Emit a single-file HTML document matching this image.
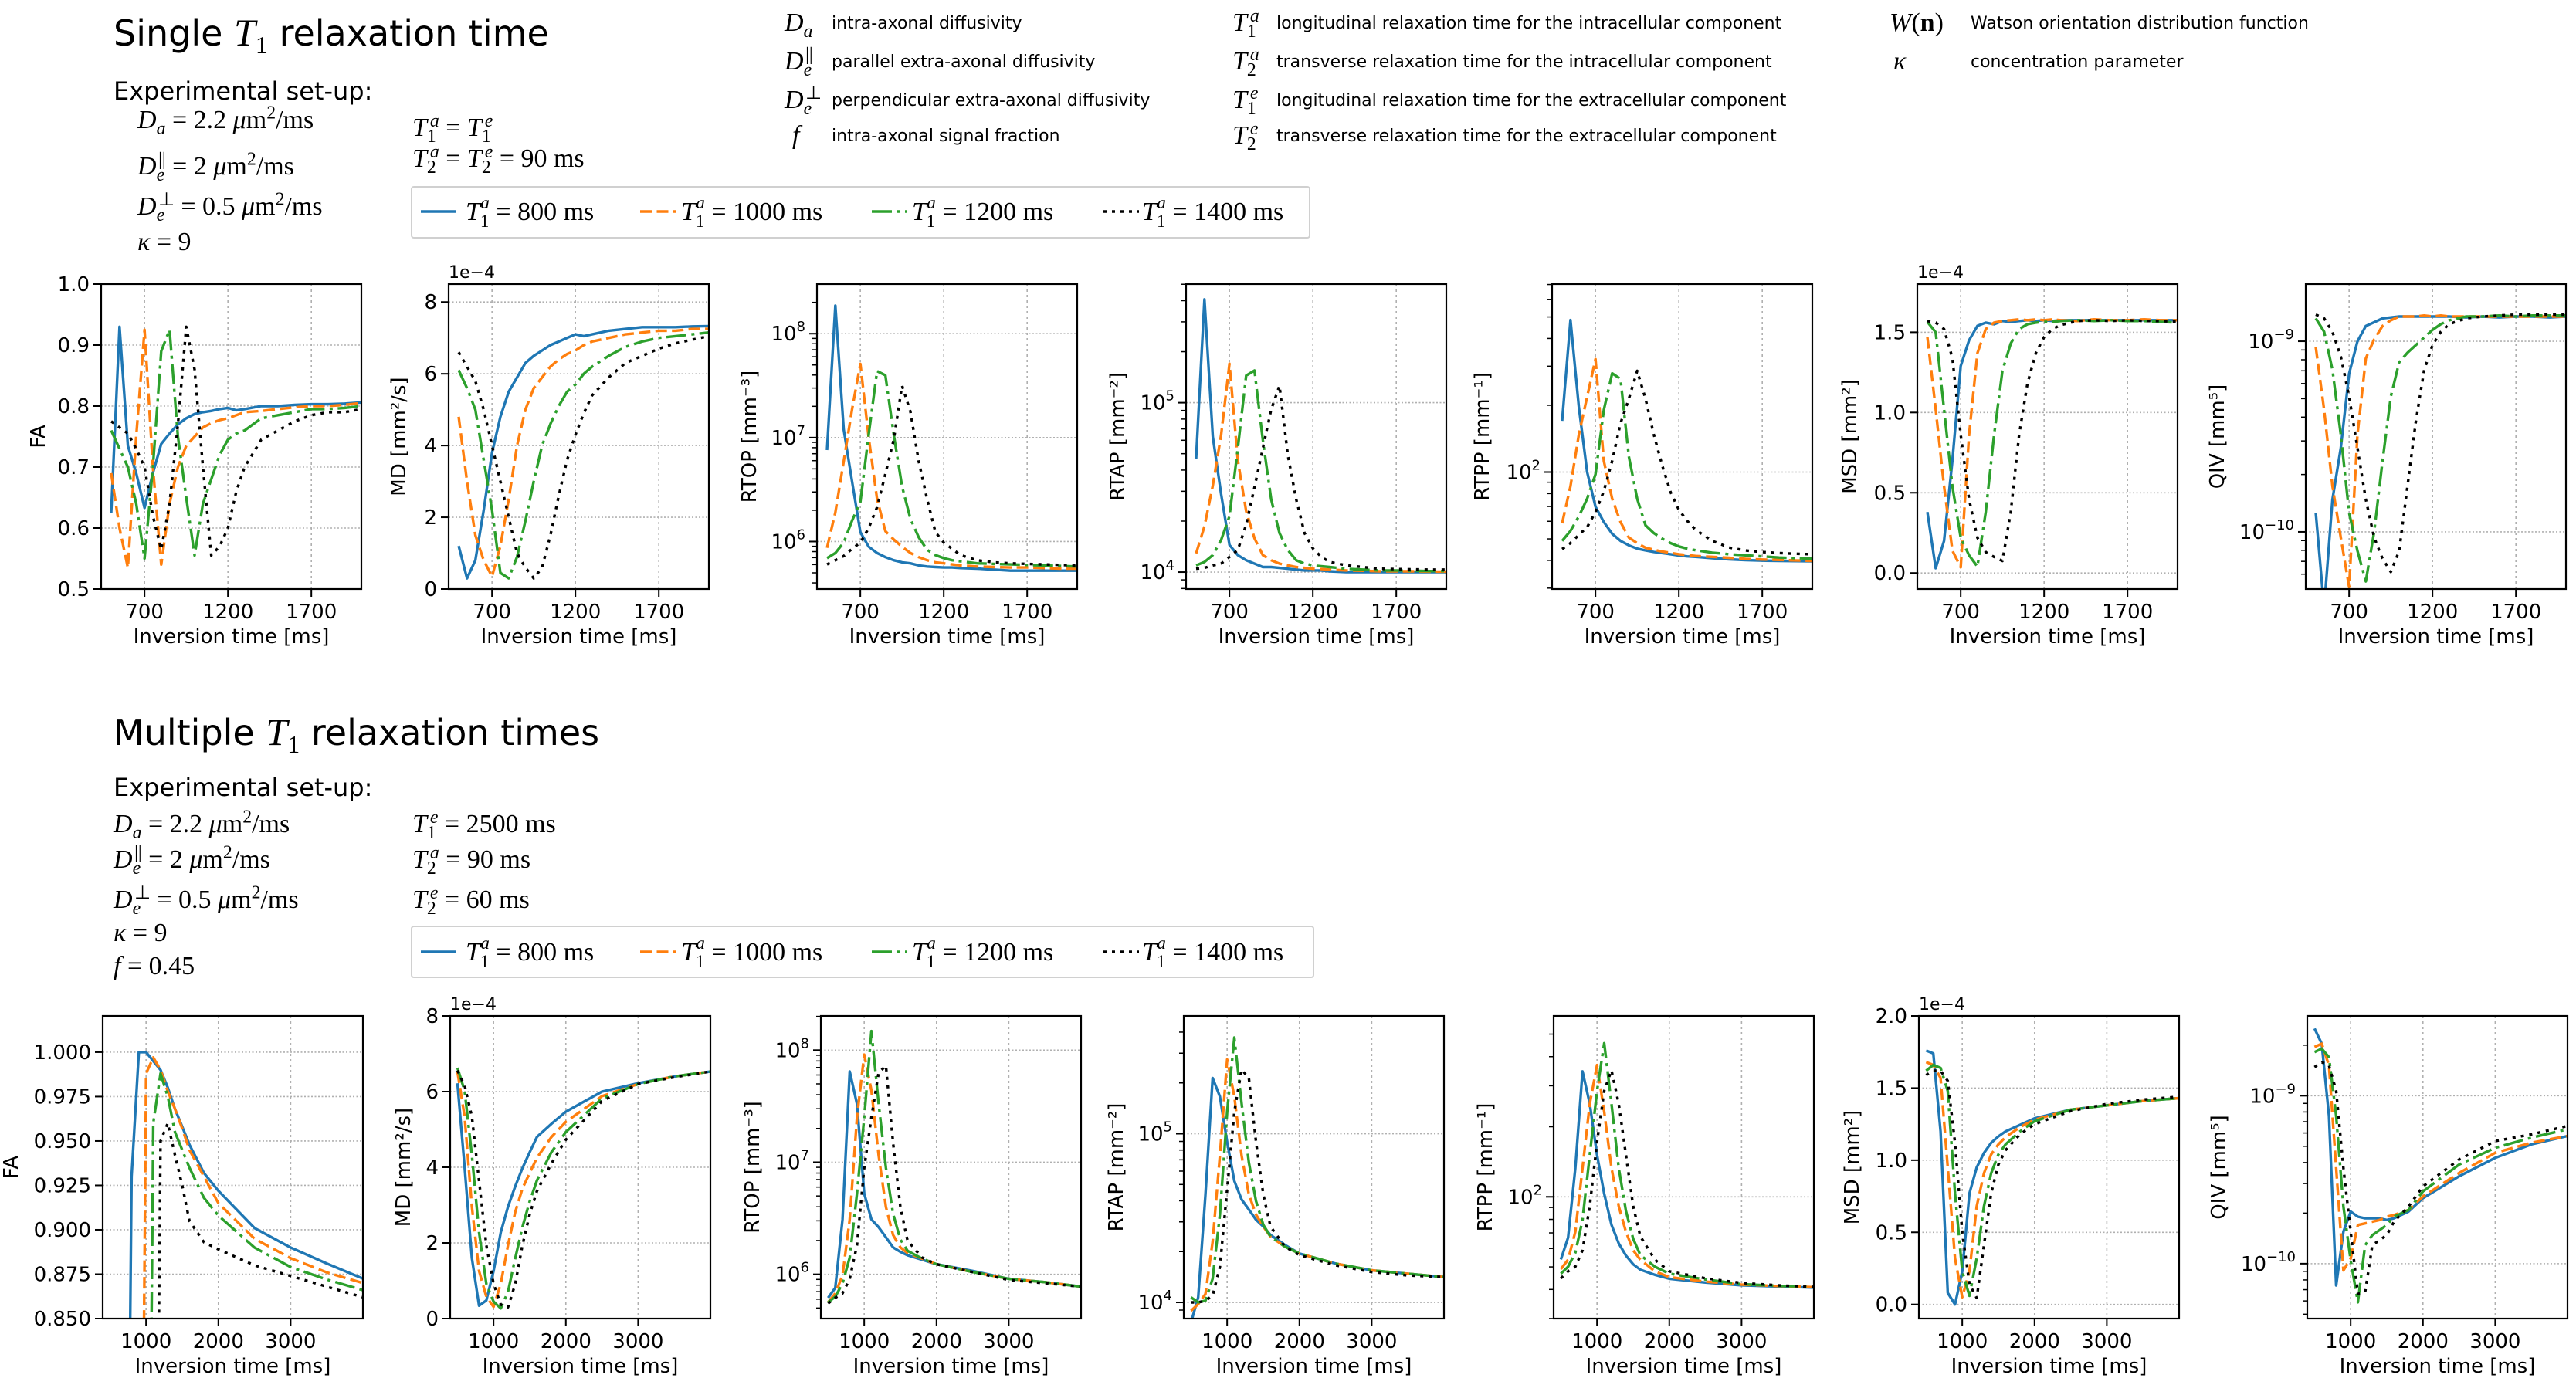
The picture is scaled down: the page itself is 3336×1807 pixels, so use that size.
<!DOCTYPE html>
<html><head><meta charset="utf-8">
<style>
html,body{margin:0;padding:0;background:#fff;width:3336px;height:1807px;overflow:hidden;}
#wrap{position:relative;width:3336px;height:1807px;overflow:hidden;background:#fff;font-family:"DejaVu Sans","Liberation Sans",sans-serif;}
.t{position:absolute;white-space:nowrap;color:#000;line-height:1.15;}
.m{font-family:"Liberation Serif",serif;font-size:34px;}
.m i{font-style:italic;}
.g{font-family:"DejaVu Sans","Liberation Sans",sans-serif;font-size:22px;}
.leg{position:absolute;border:2px solid #d0d0d0;border-radius:4px;background:#fff;box-sizing:border-box;}
sub,sup{font-size:70%;line-height:0;}
</style></head>
<body>
<div id="wrap">
<div class="t" style="left:147px;top:14px;font-size:46px;">Single <span style="font-family:'Liberation Serif',serif;font-style:italic;font-size:50px;">T</span><sub style="font-family:'Liberation Serif',serif;">1</sub> relaxation time</div>
<div class="t" style="left:147px;top:100px;font-size:32px;">Experimental set-up:</div>
<div class="t m" style="left:178px;top:136px;"><i>D<sub>a</sub></i> = 2.2 <i>μ</i>m<sup>2</sup>/ms</div>
<div class="t m" style="left:178px;top:196px;"><i>D</i><sub><i>e</i></sub><sup style="margin-left:-8px">||</sup> = 2 <i>μ</i>m<sup>2</sup>/ms</div>
<div class="t m" style="left:178px;top:248px;"><i>D</i><sub><i>e</i></sub><sup style="margin-left:-8px">⊥</sup> = 0.5 <i>μ</i>m<sup>2</sup>/ms</div>
<div class="t m" style="left:178px;top:294px;"><i>κ</i> = 9</div>
<div class="t m" style="left:534px;top:146px;"><i>T</i><sub>1</sub><sup style="margin-left:-8px"><i>a</i></sup> = <i>T</i><sub>1</sub><sup style="margin-left:-8px"><i>e</i></sup></div>
<div class="t m" style="left:534px;top:186px;"><i>T</i><sub>2</sub><sup style="margin-left:-8px"><i>a</i></sup> = <i>T</i><sub>2</sub><sup style="margin-left:-8px"><i>e</i></sup> = 90 ms</div>

<div class="t m" style="left:1016px;top:10px;"><i>D<sub>a</sub></i></div>
<div class="t g" style="left:1077px;top:18px;">intra-axonal diffusivity</div>
<div class="t m" style="left:1016px;top:60px;"><i>D</i><sub><i>e</i></sub><sup style="margin-left:-8px">||</sup></div>
<div class="t g" style="left:1077px;top:68px;">parallel extra-axonal diffusivity</div>
<div class="t m" style="left:1016px;top:110px;"><i>D</i><sub><i>e</i></sub><sup style="margin-left:-8px">⊥</sup></div>
<div class="t g" style="left:1077px;top:118px;">perpendicular extra-axonal diffusivity</div>
<div class="t m" style="left:1026px;top:156px;"><i>f</i></div>
<div class="t g" style="left:1077px;top:164px;">intra-axonal signal fraction</div>
<div class="t m" style="left:1596px;top:10px;"><i>T</i><sub>1</sub><sup style="margin-left:-8px"><i>a</i></sup></div>
<div class="t g" style="left:1653px;top:18px;">longitudinal relaxation time for the intracellular component</div>
<div class="t m" style="left:1596px;top:60px;"><i>T</i><sub>2</sub><sup style="margin-left:-8px"><i>a</i></sup></div>
<div class="t g" style="left:1653px;top:68px;">transverse relaxation time for the intracellular component</div>
<div class="t m" style="left:1596px;top:110px;"><i>T</i><sub>1</sub><sup style="margin-left:-8px"><i>e</i></sup></div>
<div class="t g" style="left:1653px;top:118px;">longitudinal relaxation time for the extracellular component</div>
<div class="t m" style="left:1596px;top:156px;"><i>T</i><sub>2</sub><sup style="margin-left:-8px"><i>e</i></sup></div>
<div class="t g" style="left:1653px;top:164px;">transverse relaxation time for the extracellular component</div>
<div class="t m" style="left:2447px;top:10px;"><i>W</i>(<b>n</b>)</div>
<div class="t g" style="left:2552px;top:18px;">Watson orientation distribution function</div>
<div class="t m" style="left:2452px;top:60px;"><i>κ</i></div>
<div class="t g" style="left:2552px;top:68px;">concentration parameter</div>

<div class="t" style="left:147px;top:920px;font-size:46px;">Multiple <span style="font-family:'Liberation Serif',serif;font-style:italic;font-size:50px;">T</span><sub style="font-family:'Liberation Serif',serif;">1</sub> relaxation times</div>
<div class="t" style="left:147px;top:1002px;font-size:32px;">Experimental set-up:</div>
<div class="t m" style="left:147px;top:1048px;"><i>D<sub>a</sub></i> = 2.2 <i>μ</i>m<sup>2</sup>/ms</div>
<div class="t m" style="left:147px;top:1094px;"><i>D</i><sub><i>e</i></sub><sup style="margin-left:-8px">||</sup> = 2 <i>μ</i>m<sup>2</sup>/ms</div>
<div class="t m" style="left:147px;top:1146px;"><i>D</i><sub><i>e</i></sub><sup style="margin-left:-8px">⊥</sup> = 0.5 <i>μ</i>m<sup>2</sup>/ms</div>
<div class="t m" style="left:147px;top:1189px;"><i>κ</i> = 9</div>
<div class="t m" style="left:147px;top:1232px;"><i>f</i> = 0.45</div>
<div class="t m" style="left:534px;top:1048px;"><i>T</i><sub>1</sub><sup style="margin-left:-8px"><i>e</i></sup> = 2500 ms</div>
<div class="t m" style="left:534px;top:1094px;"><i>T</i><sub>2</sub><sup style="margin-left:-8px"><i>a</i></sup> = 90 ms</div>
<div class="t m" style="left:534px;top:1146px;"><i>T</i><sub>2</sub><sup style="margin-left:-8px"><i>e</i></sup> = 60 ms</div>

<div id="legtop" class="leg" style="left:532px;top:241px;width:1165px;height:68px;"></div>
<div id="legbot" class="leg" style="left:532px;top:1199px;width:1170px;height:68px;"></div>

<svg id="chart" width="3336" height="1807" style="position:absolute;left:0;top:0;"></svg>
</div>
<script>
const topX = [500,550,600,650,700,750,800,850,900,950,1000,1050,1100,1150,1200,1250,1300,1400,1500,1600,1700,1800,1900,2000];
const botX = [500,600,700,800,900,1000,1100,1200,1300,1400,1500,1600,1800,2000,2500,3000,3500,4000];
const legendLabels = ['800','1000','1200','1400'];

const topFA800 = [.625,.93,.735,.69,.633,.69,.738,.755,.77,.78,.787,.79,.792,.795,.797,.793,.795,.80,.80,.802,.803,.803,.804,.806];
const topFA1000 = [.69,.60,.535,.75,.925,.70,.54,.64,.70,.735,.75,.765,.772,.777,.78,.785,.79,.792,.795,.798,.80,.80,.802,.805];
const topFA1200 = [.76,.73,.70,.64,.55,.70,.89,.925,.75,.65,.555,.64,.68,.72,.745,.755,.76,.78,.785,.79,.795,.795,.797,.80];
const topFA1400 = [.775,.765,.755,.73,.70,.62,.565,.64,.77,.93,.86,.70,.555,.57,.60,.66,.70,.745,.76,.775,.785,.79,.79,.795];

const topMD800 = [1.2,0.3,0.8,2.2,3.8,4.8,5.5,5.9,6.3,6.5,6.65,6.8,6.9,7.0,7.1,7.05,7.1,7.2,7.25,7.3,7.3,7.3,7.32,7.33];
const topMD1000 = [4.8,3.0,1.5,0.8,0.35,1.2,2.5,4.0,5.0,5.6,5.9,6.2,6.4,6.55,6.65,6.8,6.9,7.0,7.1,7.15,7.2,7.2,7.25,7.25];
const topMD1200 = [6.1,5.6,5.0,3.6,2.2,0.45,0.3,0.9,1.9,3.0,4.0,4.6,5.1,5.5,5.7,6.0,6.2,6.5,6.75,6.9,7.0,7.05,7.1,7.15];
const topMD1400 = [6.6,6.2,5.8,5.0,4.0,3.0,2.0,1.0,0.6,0.3,0.6,1.5,2.6,3.6,4.3,4.9,5.4,5.9,6.3,6.5,6.7,6.85,6.95,7.05];

const topRTOP800 = [6.88,8.27,7.08,6.58,6.09,5.95,5.89,5.85,5.82,5.80,5.79,5.77,5.76,5.755,5.75,5.75,5.745,5.74,5.73,5.72,5.72,5.72,5.72,5.72];
const topRTOP1000 = [5.94,6.28,6.77,7.27,7.71,7.0,6.41,6.1,6.02,5.95,5.89,5.85,5.82,5.80,5.79,5.78,5.77,5.76,5.755,5.75,5.75,5.745,5.74,5.74];
const topRTOP1200 = [5.84,5.89,5.99,6.2,6.38,7.03,7.64,7.6,7.03,6.53,6.22,6.04,5.92,5.87,5.84,5.82,5.81,5.79,5.785,5.78,5.775,5.77,5.765,5.76];
const topRTOP1400 = [5.78,5.82,5.86,5.93,5.99,6.13,6.33,6.65,6.98,7.5,7.25,6.77,6.41,6.09,5.99,5.93,5.87,5.82,5.80,5.79,5.785,5.78,5.775,5.77];

const topRTAP800 = [4.67,5.61,4.80,4.46,4.16,4.10,4.07,4.05,4.03,4.03,4.025,4.02,4.015,4.01,4.01,4.01,4.005,4.0,4.0,4.0,4.0,4.0,4.0,4.0];
const topRTAP1000 = [4.11,4.27,4.51,4.81,5.23,4.66,4.36,4.2,4.1,4.07,4.05,4.04,4.03,4.025,4.02,4.018,4.015,4.01,4.008,4.005,4.005,4.005,4.003,4.003];
const topRTAP1200 = [4.04,4.06,4.10,4.19,4.33,4.73,5.16,5.19,4.78,4.43,4.23,4.13,4.07,4.05,4.04,4.035,4.03,4.02,4.015,4.01,4.01,4.008,4.006,4.006];
const topRTAP1400 = [4.02,4.025,4.04,4.05,4.09,4.13,4.28,4.5,4.73,4.96,5.1,4.69,4.43,4.23,4.14,4.09,4.06,4.04,4.03,4.02,4.018,4.016,4.015,4.015];

const topRTPP800 = [2.231,2.685,2.295,2.0,1.844,1.775,1.722,1.69,1.67,1.655,1.647,1.64,1.635,1.63,1.624,1.62,1.618,1.612,1.607,1.603,1.601,1.60,1.599,1.598];
const topRTPP1000 = [1.769,1.936,2.168,2.34,2.509,2.05,1.88,1.775,1.705,1.68,1.659,1.65,1.642,1.636,1.630,1.626,1.622,1.618,1.614,1.609,1.606,1.604,1.602,1.60];
const topRTPP1200 = [1.69,1.735,1.80,1.88,1.99,2.28,2.445,2.42,2.07,1.88,1.76,1.725,1.70,1.68,1.665,1.655,1.648,1.637,1.63,1.625,1.62,1.615,1.612,1.61];
const topRTPP1400 = [1.653,1.68,1.717,1.752,1.82,1.914,2.05,2.22,2.33,2.456,2.33,2.168,2.03,1.91,1.83,1.78,1.74,1.69,1.66,1.647,1.64,1.635,1.632,1.63];

const topMSD800 = [.38,.03,.2,.7,1.29,1.45,1.54,1.56,1.55,1.57,1.565,1.57,1.575,1.57,1.575,1.57,1.575,1.575,1.575,1.575,1.575,1.575,1.575,1.575];
const topMSD1000 = [1.47,1.02,.54,.14,.035,.86,1.37,1.52,1.56,1.57,1.575,1.58,1.575,1.58,1.575,1.58,1.575,1.57,1.58,1.575,1.575,1.58,1.575,1.575];
const topMSD1200 = [1.565,1.5,1.02,.54,.22,.11,.04,.38,.86,1.26,1.43,1.52,1.55,1.56,1.565,1.565,1.57,1.575,1.57,1.575,1.57,1.57,1.565,1.56];
const topMSD1400 = [1.57,1.56,1.52,1.34,.86,.46,.22,.13,.10,.075,.38,.86,1.18,1.37,1.47,1.52,1.545,1.57,1.575,1.57,1.575,1.57,1.57,1.565];

const topQIV800 = [-9.90,-10.4,-9.83,-9.56,-9.17,-9.0,-8.92,-8.90,-8.88,-8.875,-8.87,-8.87,-8.87,-8.87,-8.87,-8.87,-8.87,-8.875,-8.87,-8.875,-8.87,-8.87,-8.875,-8.87];
const topQIV1000 = [-9.03,-9.36,-9.76,-10.03,-10.29,-9.49,-9.09,-8.99,-8.92,-8.89,-8.87,-8.87,-8.87,-8.865,-8.87,-8.865,-8.87,-8.87,-8.87,-8.87,-8.87,-8.87,-8.87,-8.87];
const topQIV1200 = [-8.88,-8.95,-9.15,-9.49,-9.9,-10.1,-10.26,-10.0,-9.63,-9.29,-9.11,-9.06,-9.02,-8.98,-8.94,-8.91,-8.89,-8.87,-8.87,-8.865,-8.87,-8.865,-8.865,-8.865];
const topQIV1400 = [-8.86,-8.88,-8.95,-9.08,-9.29,-9.56,-9.83,-10.03,-10.14,-10.21,-10.1,-9.76,-9.42,-9.15,-9.02,-8.95,-8.91,-8.88,-8.87,-8.865,-8.86,-8.86,-8.86,-8.86];

const botFA800 = [.5,.5,.5,.93,1.0,1.0,.995,.99,.98,.968,.958,.948,.932,.922,.901,.89,.881,.8725];
const botFA1000 = [.5,.5,.5,.5,.5,.988,.997,.99,.978,.968,.957,.945,.93,.915,.895,.884,.876,.87];
const botFA1200 = [.5,.5,.5,.5,.5,.5,.96,.988,.975,.955,.945,.935,.918,.908,.89,.879,.872,.866];
const botFA1400 = [.5,.5,.5,.5,.5,.5,.5,.95,.96,.942,.925,.905,.893,.889,.88,.874,.868,.862];

const botMD800 = [6.22,4.0,1.6,.34,.48,1.26,2.28,2.96,3.5,3.98,4.4,4.8,5.15,5.47,6.0,6.22,6.4,6.53];
const botMD1000 = [6.53,5.34,2.96,1.26,.58,.31,.92,1.94,2.82,3.44,3.85,4.25,4.8,5.2,5.88,6.2,6.4,6.53];
const botMD1200 = [6.63,6.02,4.32,2.28,.92,.45,.27,.71,1.6,2.42,3.1,3.65,4.4,4.93,5.82,6.2,6.4,6.53];
const botMD1400 = [6.56,6.16,5.34,3.64,1.94,.92,.37,.3,.92,1.94,2.76,3.37,4.1,4.73,5.75,6.2,6.38,6.53];

const botRTOP800 = [5.79,5.88,6.49,7.81,7.52,6.72,6.49,6.42,6.33,6.24,6.2,6.17,6.13,6.09,6.03,5.96,5.93,5.89];
const botRTOP1000 = [5.75,5.83,5.99,6.49,7.40,7.96,7.64,7.06,6.6,6.35,6.24,6.19,6.14,6.09,6.02,5.96,5.93,5.89];
const botRTOP1200 = [5.75,5.80,5.92,6.15,6.72,7.40,8.17,7.52,6.95,6.54,6.31,6.21,6.14,6.09,6.02,5.96,5.93,5.89];
const botRTOP1400 = [5.74,5.79,5.83,5.96,6.26,6.95,7.40,7.80,7.86,7.17,6.6,6.3,6.15,6.09,6.02,5.95,5.92,5.89];

const botRTAP800 = [3.88,4.03,4.64,5.33,5.22,4.95,4.72,4.61,4.55,4.49,4.45,4.40,4.34,4.29,4.23,4.19,4.17,4.15];
const botRTAP1000 = [3.95,3.99,4.05,4.36,4.87,5.44,5.22,4.87,4.64,4.52,4.45,4.39,4.33,4.29,4.23,4.19,4.17,4.15];
const botRTAP1200 = [4.03,4.0,4.01,4.14,4.52,5.13,5.57,5.18,4.83,4.60,4.46,4.39,4.33,4.29,4.23,4.19,4.17,4.15];
const botRTAP1400 = [4.0,4.0,4.01,4.04,4.21,4.67,5.13,5.38,5.33,4.95,4.64,4.45,4.33,4.28,4.22,4.18,4.16,4.15];

const botRTPP800 = [1.731,1.825,2.124,2.539,2.40,2.18,2.013,1.88,1.80,1.748,1.71,1.687,1.665,1.648,1.632,1.62,1.615,1.61];
const botRTPP1000 = [1.69,1.73,1.85,2.124,2.40,2.566,2.365,2.124,1.96,1.85,1.77,1.73,1.68,1.655,1.636,1.623,1.617,1.612];
const botRTPP1200 = [1.67,1.70,1.76,1.90,2.18,2.455,2.66,2.40,2.124,1.94,1.82,1.75,1.70,1.67,1.645,1.625,1.618,1.613];
const botRTPP1400 = [1.65,1.68,1.70,1.77,1.96,2.235,2.455,2.544,2.40,2.18,1.96,1.83,1.73,1.68,1.65,1.63,1.62,1.613];

const botMSD800 = [1.76,1.74,1.2,.08,.0,.23,.77,.95,1.05,1.12,1.165,1.2,1.245,1.29,1.35,1.38,1.41,1.43];
const botMSD1000 = [1.68,1.66,1.57,.95,.32,.05,.23,.68,.91,1.04,1.11,1.16,1.23,1.28,1.35,1.38,1.41,1.43];
const botMSD1200 = [1.62,1.66,1.64,1.48,.77,.23,.06,.32,.68,.91,1.04,1.11,1.2,1.27,1.35,1.38,1.41,1.43];
const botMSD1400 = [1.59,1.62,1.62,1.55,1.12,.5,.14,.045,.41,.77,.97,1.07,1.18,1.25,1.34,1.39,1.42,1.44];

const botQIV800 = [-8.60,-8.69,-9.12,-10.13,-9.81,-9.69,-9.72,-9.73,-9.73,-9.73,-9.74,-9.73,-9.69,-9.61,-9.48,-9.37,-9.29,-9.24];
const botQIV1000 = [-8.71,-8.69,-8.82,-9.43,-10.04,-9.97,-9.77,-9.76,-9.75,-9.74,-9.72,-9.71,-9.68,-9.60,-9.46,-9.34,-9.28,-9.24];
const botQIV1200 = [-8.74,-8.72,-8.77,-9.12,-9.66,-9.98,-10.23,-9.89,-9.83,-9.80,-9.77,-9.72,-9.68,-9.57,-9.41,-9.31,-9.25,-9.2];
const botQIV1400 = [-8.83,-8.80,-8.82,-8.97,-9.43,-9.81,-10.18,-10.17,-9.89,-9.86,-9.83,-9.75,-9.66,-9.54,-9.38,-9.27,-9.23,-9.18];

const topXTicks = [700,1200,1700];
const botXTicks = [1000,2000,3000];

const NS = 'http://www.w3.org/2000/svg';
const svg = document.getElementById('chart');
const colors = ['#1f77b4','#ff7f0e','#2ca02c','#000000'];
const dashes = ['none','15,6.5','26,6.5,4,6.5','4,7'];
function mk(tag, attrs, parent){
  const e = document.createElementNS(NS, tag);
  for (const k in attrs) e.setAttribute(k, attrs[k]);
  (parent||svg).appendChild(e);
  return e;
}
let clipId = 0;
function panel(p){
  const g = mk('g', {});
  
  
  const [x0,x1] = p.xd, [y0,y1] = p.yd;
  const sx = v => p.L + (v - x0)/(x1 - x0)*p.W;
  const sy = v => p.T + p.H - (v - y0)/(y1 - y0)*p.H;
  p.xt.forEach(t => {
    const gl = mk('line', {x1:sx(t),x2:sx(t),y1:p.T,y2:p.T+p.H,stroke:'#b0b0b0','stroke-width':1.6,'stroke-dasharray':'3,4'}, g);
    
    
  });
  p.yt.forEach(t => {
    const gl = mk('line', {x1:p.L,x2:p.L+p.W,y1:sy(t),y2:sy(t),stroke:'#b0b0b0','stroke-width':1.6,'stroke-dasharray':'2,2.5'}, g);
    
    
  });
  const id = 'c' + (clipId++);
  const cp = mk('clipPath', {id:id}, g);
  mk('rect', {x:p.L,y:p.T,width:p.W,height:p.H}, cp);
  p.series.forEach((ys, i) => {
    const d = ys.map((v, j) => (j ? 'L' : 'M') + sx(p.x[j]).toFixed(1) + ',' + sy(v).toFixed(1)).join('');
    const path = mk('path', {d:d,fill:'none',stroke:colors[i],'stroke-width':3.4,'stroke-dasharray':dashes[i],'clip-path':'url(#'+id+')','stroke-linejoin':'round'}, g);
    
    
  });
  const fr = mk('rect', {x:p.L,y:p.T,width:p.W,height:p.H,fill:'none',stroke:'#000','stroke-width':2.2}, g);
  
  
  p.xt.forEach(t => {
    mk('line', {x1:sx(t),x2:sx(t),y1:p.T+p.H,y2:p.T+p.H+10,stroke:'#000','stroke-width':2}, g);
    const tx = mk('text', {x:sx(t),y:p.T+p.H+38,'text-anchor':'middle','font-size':26,'font-family':'DejaVu Sans, Liberation Sans, sans-serif'}, g);
    tx.textContent = t;
    
    
  });
  const xl = mk('text', {x:p.L+p.W/2,y:p.T+p.H+70,'text-anchor':'middle','font-size':26,'font-family':'DejaVu Sans, Liberation Sans, sans-serif'}, g);
  xl.textContent = 'Inversion time [ms]';
  
  
  if (p.log) {
    for (let e = Math.floor(y0); e <= Math.ceil(y1); e++) {
      for (let m = 2; m <= 9; m++) {
        const v = e + Math.log10(m);
        if (v > y0 && v < y1) mk('line', {x1:p.L-6,x2:p.L,y1:sy(v),y2:sy(v),stroke:'#000','stroke-width':1.5}, g);
      }
    }
  }
  p.yt.forEach((t, k) => {
    mk('line', {x1:p.L-10,x2:p.L,y1:sy(t),y2:sy(t),stroke:'#000','stroke-width':2}, g);
    const tx = mk('text', {x:p.L-15,y:sy(t)+9,'text-anchor':'end','font-size':26,'font-family':'DejaVu Sans, Liberation Sans, sans-serif'}, g);
    if (p.log) {
      const t1 = mk('tspan', {}, tx); t1.textContent = '10';
      const t2 = mk('tspan', {dy:-12,'font-size':18}, tx); t2.textContent = p.ytl[k];
    } else tx.textContent = p.ytl[k];
    
    
  });
  const yl = mk('text', {x:0,y:0,'text-anchor':'middle','font-size':26,'font-family':'DejaVu Sans, Liberation Sans, sans-serif',transform:'translate('+(p.L-p.yo)+','+(p.T+p.H/2)+') rotate(-90)'}, g);
  yl.textContent = p.yl;
  
  
  if (p.off) {
    const ot = mk('text', {x:p.L,y:p.T-8,'font-size':22,'font-family':'DejaVu Sans, Liberation Sans, sans-serif'}, g);
    ot.textContent = p.off;
    
    
  }
}
const W = 337;
const TT = 368, TH = 395, BT = 1316, BH = 392;
const topL = [131,581,1058,1536,2010,2483,2986];
const botL = [133,583,1063,1533,2012,2485,2988];
const tX = [440,2000], bX = [400,4000];
const defsTop = [
 {name:'panel-fa-single', yd:[0.5,1.0], yt:[0.5,0.6,0.7,0.8,0.9,1.0], ytl:['0.5','0.6','0.7','0.8','0.9','1.0'], yl:'FA', yo:73, s:[topFA800,topFA1000,topFA1200,topFA1400]},
 {name:'panel-md-single', yd:[0,8.5], yt:[0,2,4,6,8], ytl:['0','2','4','6','8'], yl:'MD [mm²/s]', yo:56, off:'1e−4', s:[topMD800,topMD1000,topMD1200,topMD1400]},
 {name:'panel-rtop-single', log:1, yd:[5.543,8.477], yt:[6,7,8], ytl:['6','7','8'], yl:'RTOP [mm⁻³]', yo:79, s:[topRTOP800,topRTOP1000,topRTOP1200,topRTOP1400]},
 {name:'panel-rtap-single', log:1, yd:[3.90,5.70], yt:[4,5], ytl:['4','5'], yl:'RTAP [mm⁻²]', yo:80, s:[topRTAP800,topRTAP1000,topRTAP1200,topRTAP1400]},
 {name:'panel-rtpp-single', log:1, yd:[1.473,2.847], yt:[2], ytl:['2'], yl:'RTPP [mm⁻¹]', yo:82, s:[topRTPP800,topRTPP1000,topRTPP1200,topRTPP1400]},
 {name:'panel-msd-single', yd:[-0.1,1.8], yt:[0,0.5,1.0,1.5], ytl:['0.0','0.5','1.0','1.5'], yl:'MSD [mm²]', yo:79, off:'1e−4', s:[topMSD800,topMSD1000,topMSD1200,topMSD1400]},
 {name:'panel-qiv-single', log:1, yd:[-10.30,-8.70], yt:[-10,-9], ytl:['−10','−9'], yl:'QIV [mm⁵]', yo:106, s:[topQIV800,topQIV1000,topQIV1200,topQIV1400]}
];
const defsBot = [
 {name:'panel-fa-multiple', yd:[0.85,1.0204], yt:[0.85,0.875,0.9,0.925,0.95,0.975,1.0], ytl:['0.850','0.875','0.900','0.925','0.950','0.975','1.000'], yl:'FA', yo:110, s:[botFA800,botFA1000,botFA1200,botFA1400]},
 {name:'panel-md-multiple', yd:[0,8], yt:[0,2,4,6,8], ytl:['0','2','4','6','8'], yl:'MD [mm²/s]', yo:52, off:'1e−4', s:[botMD800,botMD1000,botMD1200,botMD1400]},
 {name:'panel-rtop-multiple', log:1, yd:[5.605,8.305], yt:[6,7,8], ytl:['6','7','8'], yl:'RTOP [mm⁻³]', yo:80, s:[botRTOP800,botRTOP1000,botRTOP1200,botRTOP1400]},
 {name:'panel-rtap-multiple', log:1, yd:[3.904,5.698], yt:[4,5], ytl:['4','5'], yl:'RTAP [mm⁻²]', yo:79, s:[botRTAP800,botRTAP1000,botRTAP1200,botRTAP1400]},
 {name:'panel-rtpp-multiple', log:1, yd:[1.477,2.777], yt:[2], ytl:['2'], yl:'RTPP [mm⁻¹]', yo:80, s:[botRTPP800,botRTPP1000,botRTPP1200,botRTPP1400]},
 {name:'panel-msd-multiple', yd:[-0.098,2.0], yt:[0,0.5,1.0,1.5,2.0], ytl:['0.0','0.5','1.0','1.5','2.0'], yl:'MSD [mm²]', yo:78, off:'1e−4', s:[botMSD800,botMSD1000,botMSD1200,botMSD1400]},
 {name:'panel-qiv-multiple', log:1, yd:[-10.327,-8.525], yt:[-10,-9], ytl:['−10','−9'], yl:'QIV [mm⁵]', yo:106, s:[botQIV800,botQIV1000,botQIV1200,botQIV1400]}
];
defsTop.forEach((d,i) => panel(Object.assign({L:topL[i],T:TT,W:W,H:TH,xd:tX,xt:topXTicks,x:topX,series:d.s}, d)));
defsBot.forEach((d,i) => panel(Object.assign({L:botL[i],T:BT,W:W,H:BH,xd:bX,xt:botXTicks,x:botX,series:d.s}, d)));

function legend(cy){
  const hx = [545,829,1129,1429], tx = [603,882,1181,1479];
  legendLabels.forEach((lab, i) => {
    const ln = mk('line', {x1:hx[i],x2:hx[i]+46,y1:cy,y2:cy,stroke:colors[i],'stroke-width':3.4,'stroke-dasharray':dashes[i]});
    
    
    const t = mk('text', {x:tx[i],y:cy+11,'font-size':34,'font-family':'Liberation Serif, serif'});
    
    
    const a = mk('tspan', {'font-style':'italic'}, t); a.textContent = 'T';
    const b = mk('tspan', {dy:9,'font-size':23}, t); b.textContent = '1';
    const c = mk('tspan', {dy:-24,dx:-11,'font-size':23,'font-style':'italic'}, t); c.textContent = 'a';
    const d = mk('tspan', {dy:15}, t); d.textContent = ' = ' + lab + ' ms';
  });
}
legend(274);
legend(1233);
</script>
</body></html>
